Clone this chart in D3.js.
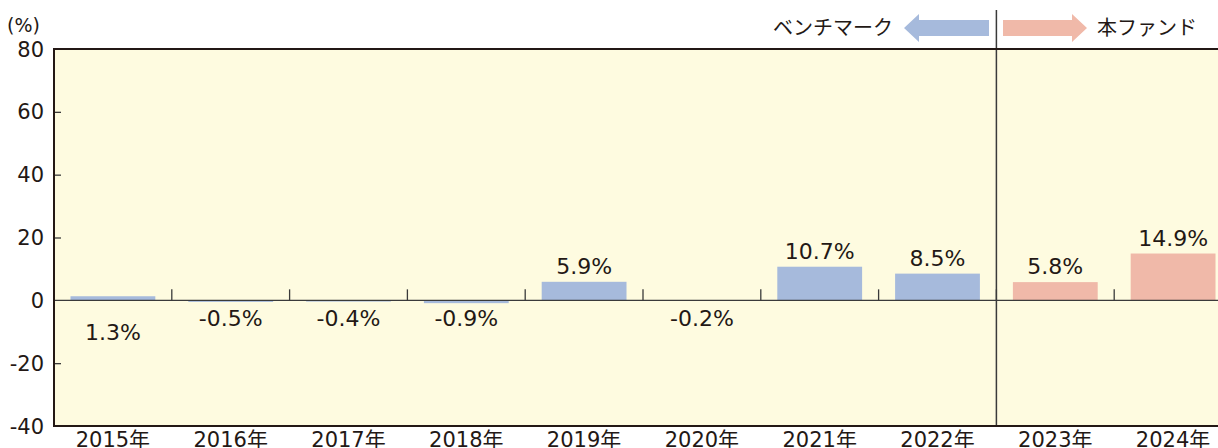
<!DOCTYPE html>
<html>
<head>
<meta charset="utf-8">
<script src="https://cdn.jsdelivr.net/npm/d3@7"></script>
<style>
  body { margin: 0; background: #fff; }
  svg text { font-family: "DejaVu Sans", "Noto Sans CJK JP", sans-serif; fill: #231815; }
</style>
</head>
<body>
<div id="chart"></div>
<script>
const years = ["2015年", "2016年", "2017年", "2018年", "2019年", "2020年", "2021年", "2022年", "2023年", "2024年"];
const returns = [1.3, -0.5, -0.4, -0.9, 5.9, -0.2, 10.7, 8.5, 5.8, 14.9];
const series = ["bench", "bench", "bench", "bench", "bench", "bench", "bench", "bench", "fund", "fund"];
const yTicks = [80, 60, 40, 20, 0, -20, -40];
const legendNames = { bench: "ベンチマーク", fund: "本ファンド" };

const W = 1218, H = 448;
const margin = { left: 54, top: 49, bottom: 22 };
const colors = { bench: "#a6badc", fund: "#f0b9a9" };
const ink = "#231815";

const svg = d3.select("#chart").append("svg")
  .attr("width", W).attr("height", H);

const y = d3.scaleLinear().domain([-40, 80]).range([426, margin.top]);
const x = d3.scaleBand().domain(years)
  .range([margin.left, margin.left + 10 * 117.8])
  .paddingInner(0.28).paddingOuter(0.14);
const step = x.step();

// plot background
svg.append("rect")
  .attr("x", margin.left).attr("y", y(80))
  .attr("width", W - margin.left).attr("height", y(-40) - y(80))
  .attr("fill", "#fefbe0");

// bars
svg.append("g").selectAll("rect").data(years).join("rect")
  .attr("x", d => x(d))
  .attr("width", x.bandwidth())
  .attr("y", (d, i) => y(Math.max(0, returns[i])))
  .attr("height", (d, i) => Math.abs(y(returns[i]) - y(0)))
  .attr("fill", (d, i) => colors[series[i]]);

// zero line
svg.append("line")
  .attr("x1", margin.left).attr("x2", W)
  .attr("y1", y(0)).attr("y2", y(0))
  .attr("stroke", "#3a3a3a").attr("stroke-width", 1.3);

// category separators on the zero line
const sepX = d3.range(1, 10).map(i => margin.left + i * step);
svg.append("g").selectAll("line").data(sepX).join("line")
  .attr("x1", d => d).attr("x2", d => d)
  .attr("y1", y(0) - 11).attr("y2", y(0))
  .attr("stroke", "#3a3a3a").attr("stroke-width", 1.3);

// divider between benchmark and fund
const divX = margin.left + 8 * step;
svg.append("line")
  .attr("x1", divX).attr("x2", divX)
  .attr("y1", 10).attr("y2", y(-40))
  .attr("stroke", "#3a3a3a").attr("stroke-width", 1.5);

// y axis
const yAxis = svg.append("g")
  .attr("transform", "translate(" + margin.left + ",0)")
  .call(d3.axisRight(y).tickValues(yTicks).tickSize(7).tickFormat(""));
yAxis.select(".domain").remove();
yAxis.selectAll(".tick line").attr("stroke", "#3a3a3a").attr("stroke-width", 1.3)
  .filter(d => d === 80 || d === -40 || d === 0).remove();

svg.append("g").selectAll("text").data(yTicks).join("text")
  .attr("x", 44).attr("y", d => y(d))
  .attr("dy", "0.36em")
  .attr("text-anchor", "end")
  .attr("font-size", 21)
  .text(d => d);

svg.append("text")
  .attr("x", 7).attr("y", 32)
  .attr("font-size", 19)
  .text("(%)");

// frame: left, top, bottom
svg.append("line").attr("x1", margin.left).attr("x2", margin.left)
  .attr("y1", y(80)).attr("y2", y(-40) + 1)
  .attr("stroke", ink).attr("stroke-width", 2);
svg.append("line").attr("x1", margin.left - 1).attr("x2", W)
  .attr("y1", y(80)).attr("y2", y(80))
  .attr("stroke", ink).attr("stroke-width", 2);
svg.append("line").attr("x1", margin.left - 1).attr("x2", W)
  .attr("y1", y(-40)).attr("y2", y(-40))
  .attr("stroke", ink).attr("stroke-width", 2);

// x labels (cut by the bottom edge, as in the source)
svg.append("g").selectAll("text").data(years).join("text")
  .attr("x", d => x(d) + x.bandwidth() / 2)
  .attr("y", 447)
  .attr("text-anchor", "middle")
  .attr("font-size", 21)
  .text(d => d);

// value labels
svg.append("g").selectAll("text").data(years).join("text")
  .attr("x", d => x(d) + x.bandwidth() / 2)
  .attr("y", (d, i) => {
    const v = returns[i];
    if (i === 0) return y(0) + 40;
    if (v < 0) return y(0) + 26;
    return y(v) - 8;
  })
  .attr("text-anchor", "middle")
  .attr("font-size", 22)
  .text(d => returns[years.indexOf(d)].toFixed(1) + "%");

// legend arrows
function arrow(x0, x1, dir) {
  const yc = 28, half = 8, head = 15, hh = 14;
  let pts;
  if (dir < 0) {
    pts = [[x1, yc - half], [x0 + head, yc - half], [x0 + head, yc - hh], [x0, yc],
           [x0 + head, yc + hh], [x0 + head, yc + half], [x1, yc + half]];
  } else {
    pts = [[x0, yc - half], [x1 - head, yc - half], [x1 - head, yc - hh], [x1, yc],
           [x1 - head, yc + hh], [x1 - head, yc + half], [x0, yc + half]];
  }
  return "M" + pts.map(p => p.join(",")).join("L") + "Z";
}
svg.append("path").attr("d", arrow(904, 989, -1)).attr("fill", colors.bench);
svg.append("path").attr("d", arrow(1003, 1087, 1)).attr("fill", colors.fund);

svg.append("text")
  .attr("x", 893).attr("y", 35)
  .attr("text-anchor", "end")
  .attr("font-size", 20)
  .text(legendNames.bench);
svg.append("text")
  .attr("x", 1097).attr("y", 35)
  .attr("font-size", 20)
  .text(legendNames.fund);
</script>
</body>
</html>
